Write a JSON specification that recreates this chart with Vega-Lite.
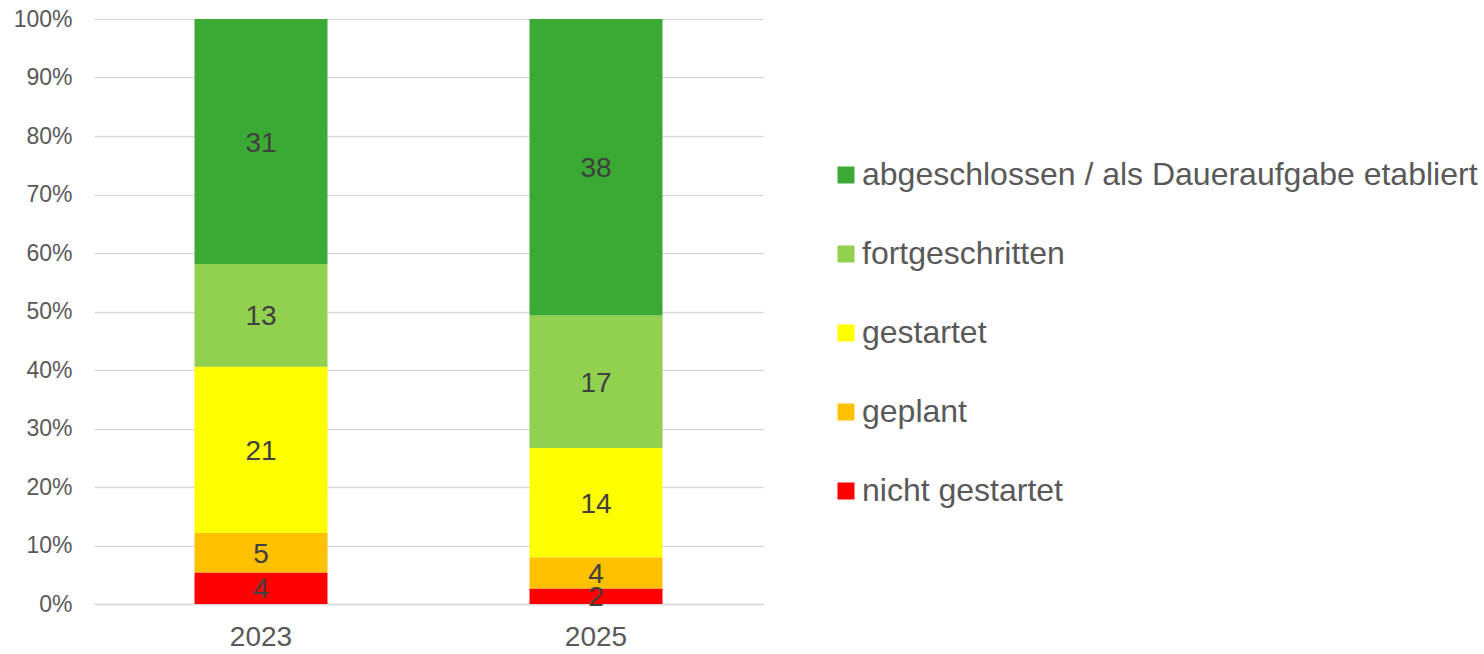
{
  "$schema": "https://vega.github.io/schema/vega-lite/v6.json",
  "width": 669,
  "height": 585,
  "autosize": "none",
  "padding": {"left": 94, "top": 19, "right": 721, "bottom": 50},
  "config": {
    "font": "Liberation Sans",
    "view": {"stroke": null}
  },
  "data": {
    "values": [
      {"year": "2023", "status": "nicht gestartet", "order": 1, "count": 4},
      {"year": "2023", "status": "geplant", "order": 2, "count": 5},
      {"year": "2023", "status": "gestartet", "order": 3, "count": 21},
      {"year": "2023", "status": "fortgeschritten", "order": 4, "count": 13},
      {"year": "2023", "status": "abgeschlossen / als Daueraufgabe etabliert", "order": 5, "count": 31},
      {"year": "2025", "status": "nicht gestartet", "order": 1, "count": 2},
      {"year": "2025", "status": "geplant", "order": 2, "count": 4},
      {"year": "2025", "status": "gestartet", "order": 3, "count": 14},
      {"year": "2025", "status": "fortgeschritten", "order": 4, "count": 17},
      {"year": "2025", "status": "abgeschlossen / als Daueraufgabe etabliert", "order": 5, "count": 38}
    ]
  },
  "transform": [
    {"stack": "count", "groupby": ["year"], "sort": [{"field": "order", "order": "ascending"}], "offset": "normalize", "as": ["y0", "y1"]},
    {"calculate": "(datum.y0 + datum.y1) / 2", "as": "ymid"}
  ],
  "encoding": {
    "x": {
      "field": "year",
      "type": "nominal",
      "scale": {"paddingInner": 0.603, "paddingOuter": 0.3},
      "axis": {
        "title": null,
        "labelAngle": 0,
        "labelFontSize": 28,
        "labelColor": "#595959",
        "labelPadding": 19,
        "ticks": false,
        "domainColor": "#d9d9d9",
        "domainWidth": 1.5
      }
    }
  },
  "layer": [
    {
      "mark": {"type": "bar"},
      "encoding": {
        "y": {
          "field": "y0",
          "type": "quantitative",
          "scale": {"domain": [0, 1]},
          "axis": {
            "title": null,
            "format": "%",
            "values": [0, 0.1, 0.2, 0.3, 0.4, 0.5, 0.6, 0.7, 0.8, 0.9, 1],
            "labelFontSize": 23,
            "labelColor": "#595959",
            "labelPadding": 22,
            "ticks": false,
            "domain": false,
            "gridColor": "#d9d9d9",
            "gridWidth": 1.5
          }
        },
        "y2": {"field": "y1"},
        "color": {
          "field": "status",
          "type": "nominal",
          "scale": {
            "domain": ["abgeschlossen / als Daueraufgabe etabliert", "fortgeschritten", "gestartet", "geplant", "nicht gestartet"],
            "range": ["#3AAA35", "#92D050", "#FFFF00", "#FFC000", "#FF0000"]
          },
          "legend": {
            "title": null,
            "orient": "none",
            "legendX": 736,
            "legendY": 140,
            "symbolType": "square",
            "symbolSize": 289,
            "symbolStrokeWidth": 0,
            "labelFontSize": 32,
            "labelColor": "#595959",
            "labelOffset": 0,
            "rowPadding": 47,
            "labelLimit": 800
          }
        }
      }
    },
    {
      "mark": {"type": "text", "fontSize": 28, "color": "#404040", "baseline": "middle", "align": "center", "dy": 2},
      "encoding": {
        "y": {"field": "ymid", "type": "quantitative"},
        "text": {"field": "count", "type": "quantitative"}
      }
    }
  ]
}
